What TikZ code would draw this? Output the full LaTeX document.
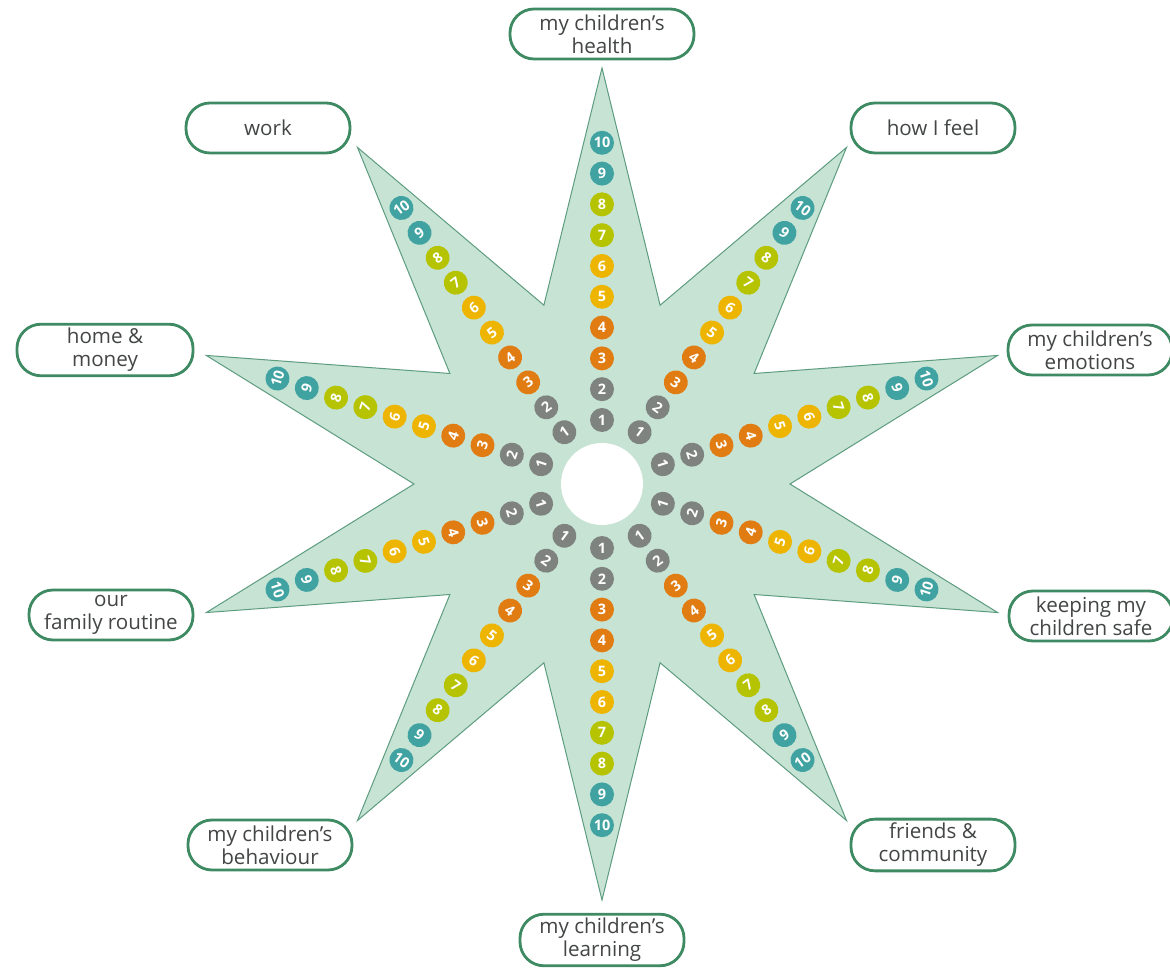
\documentclass[tikz,border=0pt]{standalone}
\usepackage{fontspec}
\setmainfont{Open Sans}

\definecolor{starfill}{HTML}{C6E3D4}
\definecolor{staredge}{HTML}{5E9C80}
\definecolor{boxedge}{HTML}{3E8A62}
\definecolor{labeltext}{HTML}{434645}
\definecolor{numgrey}{HTML}{7F8380}
\definecolor{numorange}{HTML}{E07C12}
\definecolor{numyellow}{HTML}{EDB400}
\definecolor{numlime}{HTML}{B5C300}
\definecolor{numteal}{HTML}{40A3A1}

\begin{document}
\begin{tikzpicture}[x=0.5pt, y=0.5pt,
    topic/.style={draw=boxedge, line width=1.4pt, fill=white, rounded corners=12pt,
        minimum height=25pt, minimum width=82pt, align=center, text=labeltext,
        font=\fontsize{10.3}{11.5}\selectfont, inner sep=2pt},
    disc/.style={circle, fill=#1, minimum size=12pt, inner sep=0pt, text=white,
        font=\fontsize{7.2}{7.5}\selectfont\bfseries},
    hole/.style={circle, fill=white, minimum size=41pt, inner sep=0pt}]
    \useasboundingbox (-602,-483) rectangle (568,484);

    % the star with ten points
    \draw[fill=starfill, draw=staredge, line width=0.5pt]
        (90:416) \foreach \a in {90,54,...,-234} { -- (\a-18:188) -- (\a-36:416) } -- cycle;
    \node[hole] (hub) at (0,0) {};

    % the scales from 1 to 10 along each point
    \foreach \a [count=\i] in {90,54,...,-234} {
        \pgfmathsetmacro{\turn}{sin(\a)>0 ? \a-90 : \a+90}
        \foreach \k/\c in {1/numgrey,2/numgrey,3/numorange,4/numorange,5/numyellow,
                6/numyellow,7/numlime,8/numlime,9/numteal,10/numteal}
            \node[disc=\c, rotate=\turn] (d\i-\k) at (\a:{64+30.8*(\k-1)}) {\k};
    }

    \node[topic, minimum width=92pt] (health) at (0,450) {my children’s\\health};
    \node[topic] (work) at (-334,356) {work};
    \node[topic] (feel) at (331,356) {how I feel};
    \node[topic, minimum width=88pt] (money) at (-497,134) {home \&\\money};
    \node[topic] (emotions) at (488,134) {my children’s\\emotions};
    \node[topic] (routine) at (-491,-131) {our\\family routine};
    \node[topic] (safe) at (489,-132) {keeping my\\children safe};
    \node[topic] (behaviour) at (-332,-361) {my children’s\\behaviour};
    \node[topic] (friends) at (331,-361) {friends \&\\community};
    \node[topic] (learning) at (0,-456) {my children’s\\learning};
\end{tikzpicture}
\end{document}
